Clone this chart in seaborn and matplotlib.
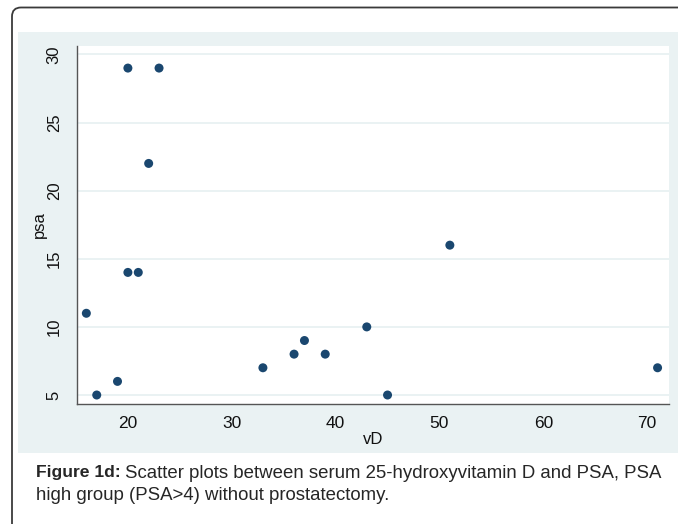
import numpy as np
import pandas as pd
import matplotlib
matplotlib.use("Agg")
import matplotlib.pyplot as plt
import seaborn as sns
from matplotlib.patches import Rectangle, FancyBboxPatch
from matplotlib.transforms import IdentityTransform

# data
vd = [16, 17, 19, 20, 20, 21, 22, 23, 33, 36, 37, 39, 43, 45, 51, 71]
psa = [11, 5, 6, 29, 14, 14, 22, 29, 7, 8, 9, 8, 10, 5, 16, 7]
x_ticks = [20, 30, 40, 50, 60, 70]
y_ticks = [5, 10, 15, 20, 25, 30]
caption_bold = "Figure 1d:"
caption_line1 = "Scatter plots between serum 25-hydroxyvitamin D and PSA, PSA"
caption_line2 = "high group (PSA>4) without prostatectomy."

df = pd.DataFrame({"vD": vd, "psa": psa})

sns.set_style("white")
plt.rcParams['font.family'] = ['Liberation Sans', 'DejaVu Sans']

W, H = 678, 524
fig = plt.figure(figsize=(W / 100, H / 100), dpi=100)
fig.patch.set_facecolor("white")

# stata-like light panel behind the plot region
panel = Rectangle((18 / W, 1 - 453 / H), (W - 18) / W, (453 - 32) / H,
                  transform=fig.transFigure, facecolor="#eaf2f3",
                  edgecolor="none", zorder=-2)
fig.add_artist(panel)

# outer frame (only top and left edges are visible)
frame = FancyBboxPatch((12, -60), 800, H - 7.5 + 60,
                       boxstyle="round,pad=0,rounding_size=9",
                       transform=IdentityTransform(), facecolor="none",
                       edgecolor="#3a3a3a", linewidth=1.3, zorder=5)
fig.add_artist(frame)

ax = fig.add_axes([77 / W, 1 - 404 / H, (669 - 77) / W, (404 - 45.6) / H])
ax.set_facecolor("white")

for yt in y_ticks:
    ax.axhline(yt, color="#eaf2f3", lw=1.4, zorder=0)

sns.scatterplot(data=df, x="vD", y="psa", ax=ax, color="#1a476f",
                s=42, edgecolor="none", linewidth=0, zorder=3)

ax.set_xlim(15.1, 72.1)
ax.set_ylim(4.34, 30.65)
ax.set_xticks(x_ticks)
ax.set_yticks(y_ticks)
ax.set_yticklabels([str(v) for v in y_ticks], rotation=90, va="center")

for side in ["top", "right"]:
    ax.spines[side].set_visible(False)
for side in ["left", "bottom"]:
    ax.spines[side].set_color("#555555")
    ax.spines[side].set_linewidth(1.0)

ax.tick_params(axis="both", direction="out", length=6, width=0.9,
               color="#555555", labelcolor="#111111")
ax.tick_params(axis="x", pad=3, labelsize=12.5)
ax.tick_params(axis="y", pad=5, labelsize=12)
ax.set_xlabel("vD", fontsize=12, color="#111111", labelpad=0)
ax.set_ylabel("psa", fontsize=12, color="#111111", labelpad=0)

# caption
renderer = fig.canvas.get_renderer()
t1 = fig.text(36 / W, 1 - 473 / H, caption_bold, fontsize=12.6,
              fontweight="bold", va="center", ha="left")
bb = t1.get_window_extent(renderer=renderer)
fig.text((bb.x1 + 4) / W, 1 - 473 / H, caption_line1, fontsize=13.4,
         va="center", ha="left")
fig.text(36 / W, 1 - 496 / H, caption_line2, fontsize=13.4,
         va="center", ha="left")

fig.savefig("out.png", dpi=100)
